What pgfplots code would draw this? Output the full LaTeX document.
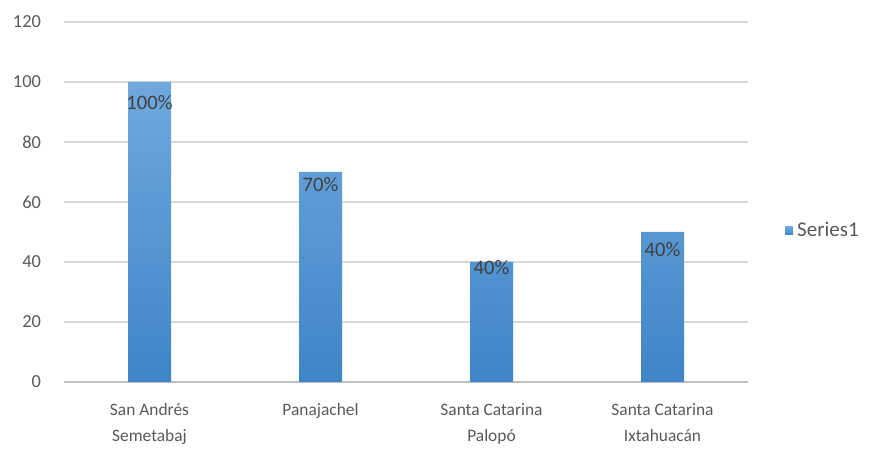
\documentclass[border=0pt]{standalone}
\usepackage{fontspec}
\setmainfont{Carlito}
\usepackage{pgfplots}
\pgfplotsset{compat=1.18}
\definecolor{barTop}{RGB}{112,168,222}
\definecolor{barBot}{RGB}{62,133,199}
\definecolor{gridc}{RGB}{217,217,217}
\definecolor{axisc}{RGB}{191,191,191}
\definecolor{txt}{RGB}{89,89,89}
\definecolor{lbl}{RGB}{64,64,64}
\begin{document}
\begin{tikzpicture}
\path (0,0) rectangle (435pt,224.5pt);
\begin{axis}[
  at={(32pt,33.5pt)}, anchor=south west,
  scale only axis, width=342pt, height=180pt,
  xmin=-0.5, xmax=3.5, ymin=0, ymax=120,
  ytick={0,20,...,120},
  xtick={0,1,2,3},
  xticklabels={{San Andrés\\Semetabaj},Panajachel,{Santa Catarina\\Palopó},{Santa Catarina\\Ixtahuacán}},
  xticklabel style={align=center, font=\fontsize{8.7}{13.2}\selectfont, text=txt, yshift=-7pt},
  yticklabel style={font=\fontsize{9.2}{13}\selectfont, text=txt, xshift=-8pt},
  /pgf/number format/assume math mode=true,
  ymajorgrids, grid style={draw=gridc, line width=0.6pt},
  axis x line*=bottom, axis y line*=left,
  x axis line style={draw=axisc, line width=0.6pt},
  y axis line style={draw=none},
  major tick length=0pt, tick style={draw=none},
  legend style={at={(1.045,0.42)}, anchor=west, draw=none, fill=none, font=\fontsize{10.5}{12}\selectfont, text=txt},
  legend image code/.code={\fill[barBot!70!barTop] (0pt,-2pt) rectangle (4pt,2pt);},
]
\addplot[ybar, bar width=21.5pt, draw=none, top color=barTop, bottom color=barBot]
  coordinates {(0,100) (1,70) (2,40) (3,50)};
\addlegendentry{Series1}
\addplot[draw=none, mark=none, forget plot, nodes near coords, nodes near coords align=center,
  point meta=explicit symbolic,
  every node near coord/.append style={font=\fontsize{10.3}{12}\selectfont, text=lbl}]
  coordinates {(0,93) [100\%] (1,65.7) [70\%] (2,38.3) [40\%] (3,44) [40\%]};
\end{axis}
\end{tikzpicture}
\end{document}
